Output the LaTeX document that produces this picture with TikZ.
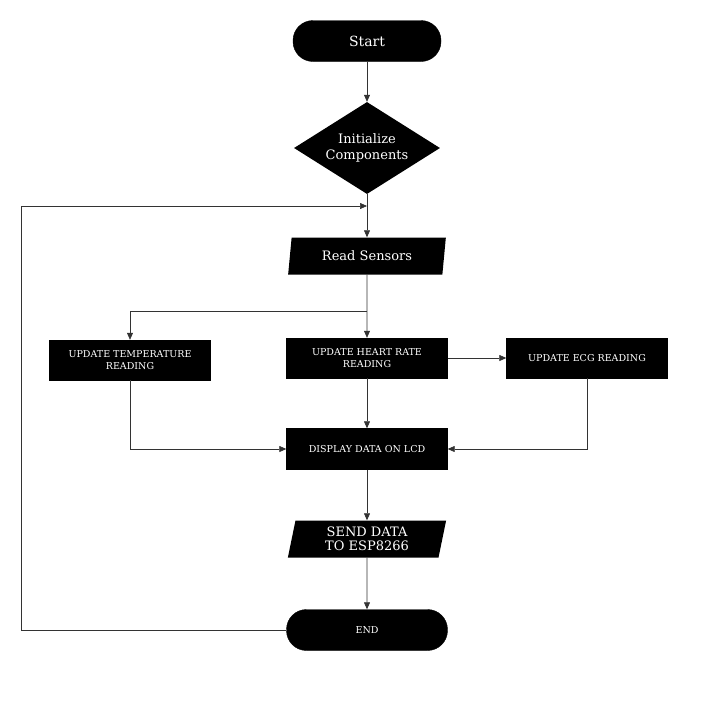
\documentclass[tikz,border=0pt]{standalone}
\usepackage{fontspec}
\setmainfont{DejaVu Serif}
\usetikzlibrary{shapes.geometric,arrows.meta}
\begin{document}
\begin{tikzpicture}[x=1pt,y=-1pt,
  blk/.style={fill=black,text=white,draw=black,align=center,font=\fontsize{9.5}{12}\selectfont,minimum width=161pt,minimum height=40pt,inner sep=1pt},
  para/.style={trapezium,trapezium left angle=80,trapezium right angle=100,trapezium stretches=true,fill=black,text=white,align=center,font=\fontsize{13}{14}\selectfont,minimum width=159pt,minimum height=37pt,inner sep=1pt},
  term/.style={rounded corners=20pt,fill=black,text=white,draw=black,align=center},
  arr/.style={-{Triangle[length=7pt,width=6pt]},draw=black!80,line width=0.6pt},
  ln/.style={draw=black!80,line width=0.6pt}]
\useasboundingbox (0,0) rectangle (702,716);
\node[term,minimum width=148pt,minimum height=41pt,font=\fontsize{14}{16}\selectfont] (start) at (367,41) {Start};
\node[diamond,fill=black,text=white,align=center,minimum width=146pt,minimum height=92pt,aspect=1.6,inner sep=0pt,font=\fontsize{13}{16}\selectfont] (init) at (367,148) {Initialize\\Components};
\node[para] (read) at (367,256) {Read Sensors};
\node[blk] (temp) at (130,360) {UPDATE TEMPERATURE\\READING};
\node[blk] (hr) at (367,358) {UPDATE HEART RATE\\READING};
\node[blk] (ecg) at (587,358) {UPDATE ECG READING};
\node[blk,minimum height=41pt] (disp) at (367,449) {DISPLAY DATA ON LCD};
\node[para] (send) at (367,539) {SEND DATA\\TO ESP8266};
\node[term,minimum width=161pt,minimum height=41pt,font=\fontsize{9.5}{12}\selectfont] (end) at (367,630) {END};
\coordinate (j) at (367,206);
\coordinate (b) at (367,311);
\draw[arr] (start) -- (init);
\draw[ln] (init) -- (j);
\draw[arr] (j) -- (read);
\draw[arr] (read) -- (hr);
\draw[arr] (b) -| (temp);
\draw[arr] (hr) -- (ecg);
\draw[arr] (hr) -- (disp);
\draw[arr] (temp) |- (disp);
\draw[arr] (ecg) |- (disp);
\draw[arr] (disp) -- (send);
\draw[arr] (send) -- (end);
\draw[arr] (end.west) -- (21,630) -- (21,206) -- (j);
\end{tikzpicture}
\end{document}
